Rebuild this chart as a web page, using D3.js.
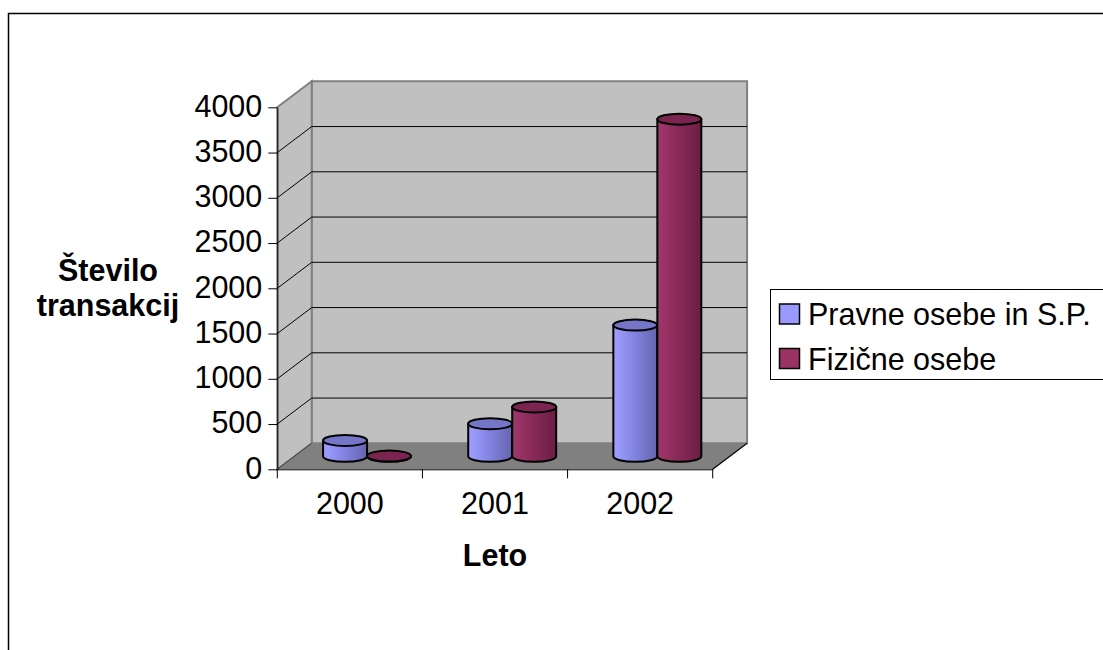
<!DOCTYPE html>
<html>
<head>
<meta charset="utf-8">
<script src="https://cdn.jsdelivr.net/npm/d3@7"></script>
<style>
  html, body { margin: 0; padding: 0; background: #fff; }
  svg { display: block; font-family: "Liberation Sans", Arial, sans-serif; }
</style>
</head>
<body>
<svg id="chart" width="1103" height="650"></svg>
<script>
// ---- data ----
const categories = ["2000", "2001", "2002"];
const seriesNames = ["Pravne osebe in S.P.", "Fizične osebe"];
const pravneValues = [175, 360, 1450];
const fizicneValues = [3, 545, 3725];
const yTickValues = [0, 500, 1000, 1500, 2000, 2500, 3000, 3500, 4000];
const yTitleLines = ["Število", "transakcij"];
const xTitle = "Leto";

// ---- styles ----
const seriesColors = [
  { swatch: "#9999FF", stops: ["#a0a0ff", "#8585e6", "#6464aa"], top: "#7676c8" },
  { swatch: "#993366", stops: ["#a0386c", "#8a2a58", "#6a1e44"], top: "#7a2450" }
];
const FS = 30.5;

const svg = d3.select("#chart");

// outer chart border
svg.append("rect").attr("x", 8.5).attr("y", 13.5).attr("width", 1200).attr("height", 700)
  .attr("fill", "#fff").attr("stroke", "#000").attr("stroke-width", 1.5);

// geometry
const frontLeft = 277.3, frontRight = 712.7;
const yZero = 469.3, yMax = 107.3;
const depthX = 34.4, depthY = -26;

const y = d3.scaleLinear().domain([0, 4000]).range([yZero, yMax]);
const x = d3.scaleBand().domain(categories).range([frontLeft, frontRight]).padding(0);
const inner = d3.scaleBand().domain(d3.range(seriesNames.length))
  .range([0, x.bandwidth()]).paddingInner(0).paddingOuter(0.65);

const defs = svg.append("defs");
seriesColors.forEach((c, i) => {
  const g = defs.append("linearGradient").attr("id", "grad" + i)
    .attr("x1", "0%").attr("x2", "100%").attr("y1", "0%").attr("y2", "0%");
  g.append("stop").attr("offset", "0%").attr("stop-color", c.stops[0]);
  g.append("stop").attr("offset", "45%").attr("stop-color", c.stops[1]);
  g.append("stop").attr("offset", "100%").attr("stop-color", c.stops[2]);
});

const line = d3.line();

// back wall
const backL = frontLeft + depthX, backR = frontRight + depthX;
svg.append("path")
  .attr("d", line([[backL, y(0) + depthY], [backL, y(4000) + depthY], [backR, y(4000) + depthY], [backR, y(0) + depthY]]) + "Z")
  .attr("fill", "#C0C0C0").attr("stroke", "#808080").attr("stroke-width", 2);

// side wall
svg.append("path")
  .attr("d", line([[frontLeft, y(0)], [frontLeft, y(4000)], [backL, y(4000) + depthY], [backL, y(0) + depthY]]) + "Z")
  .attr("fill", "#C0C0C0").attr("stroke", "#808080").attr("stroke-width", 2);

// floor
svg.append("path")
  .attr("d", line([[frontLeft, y(0)], [frontRight, y(0)], [backR, y(0) + depthY], [backL, y(0) + depthY]]) + "Z")
  .attr("fill", "#808080").attr("stroke", "none");
svg.append("path")
  .attr("d", line([[frontRight, y(0)], [backR, y(0) + depthY]]))
  .attr("stroke", "#000").attr("stroke-width", 1.2).attr("fill", "none");
svg.append("path")
  .attr("d", line([[frontLeft, y(0)], [backL, y(0) + depthY]]))
  .attr("stroke", "#404040").attr("stroke-width", 1).attr("fill", "none");

// gridlines
const gridTicks = yTickValues.filter(t => t > 0 && t < 4000);
svg.append("g").selectAll("path").data(gridTicks).join("path")
  .attr("d", t => line([[frontLeft, y(t)], [backL, y(t) + depthY], [backR, y(t) + depthY]]))
  .attr("fill", "none").attr("stroke", "#000").attr("stroke-width", 1);

// y axis
const yAxis = svg.append("g").attr("transform", `translate(${frontLeft},0)`)
  .call(d3.axisLeft(y).tickValues(yTickValues).tickFormat(d3.format("d"))
    .tickSize(9).tickPadding(6).tickSizeOuter(0));
yAxis.selectAll("text").attr("font-size", FS).attr("fill", "#000")
  .attr("font-family", "'Liberation Sans', Arial, sans-serif").attr("dy", "0.29em");
yAxis.selectAll("line").attr("stroke", "#000");
yAxis.select(".domain").attr("stroke", "#000");

// x axis
const xAxis = svg.append("g").attr("transform", `translate(0,${yZero})`)
  .call(d3.axisBottom(x).tickSize(0).tickPadding(23).tickSizeOuter(0));
xAxis.selectAll("text").attr("font-size", FS).attr("fill", "#000")
  .attr("font-family", "'Liberation Sans', Arial, sans-serif");
xAxis.select(".domain").attr("stroke", "#000");
const boundaries = categories.map(c => x(c)).concat([x.range()[1]]);
svg.append("g").selectAll("line").data(boundaries).join("line")
  .attr("x1", d => d).attr("x2", d => d).attr("y1", yZero).attr("y2", yZero + 9)
  .attr("stroke", "#000").attr("stroke-width", 1);

// cylinders
const series = [pravneValues, fizicneValues];
const rxFor = inner.bandwidth() / 2;
const ry = 5.5;
const baseY = yZero + depthY / 2;
const ys = d3.scaleLinear().domain([0, 4000]).range([baseY, baseY - (yZero - yMax)]);
const cylG = svg.append("g");
categories.forEach((c, ci) => {
  series.forEach((vals, si) => {
    const cx = x(c) + depthX / 2 + inner(si) + rxFor;
    const topY = ys(vals[ci]);
    const left = cx - rxFor, right = cx + rxFor;
    const body = `M${left},${topY} L${left},${baseY} A${rxFor},${ry} 0 0 0 ${right},${baseY} L${right},${topY} Z`;
    cylG.append("path").attr("d", body)
      .attr("fill", `url(#grad${si})`).attr("stroke", "#000").attr("stroke-width", 2);
    cylG.append("ellipse").attr("cx", cx).attr("cy", topY).attr("rx", rxFor).attr("ry", ry)
      .attr("fill", seriesColors[si].top).attr("stroke", "#000").attr("stroke-width", 2);
  });
});

// axis titles
const yt = svg.append("text").attr("text-anchor", "middle").attr("font-weight", "bold")
  .attr("font-size", FS).attr("fill", "#000");
yTitleLines.forEach((l, i) => {
  yt.append("tspan").attr("x", 108).attr("y", 281 + i * 34.5).text(l);
});
svg.append("text").attr("x", 495).attr("y", 566).attr("text-anchor", "middle")
  .attr("font-weight", "bold").attr("font-size", FS).attr("fill", "#000").text(xTitle);

// legend
const lg = svg.append("g");
lg.append("rect").attr("x", 770.5).attr("y", 289.5).attr("width", 400).attr("height", 90)
  .attr("fill", "#fff").attr("stroke", "#000").attr("stroke-width", 1);
seriesNames.forEach((name, i) => {
  lg.append("rect").attr("x", 779.5).attr("y", 304 + i * 44.5).attr("width", 20).attr("height", 20)
    .attr("fill", seriesColors[i].swatch).attr("stroke", "#000").attr("stroke-width", 1.5);
  lg.append("text").attr("x", 808).attr("y", 325 + i * 44.5).attr("font-size", FS)
    .attr("fill", "#000").text(name);
});
</script>
</body>
</html>
